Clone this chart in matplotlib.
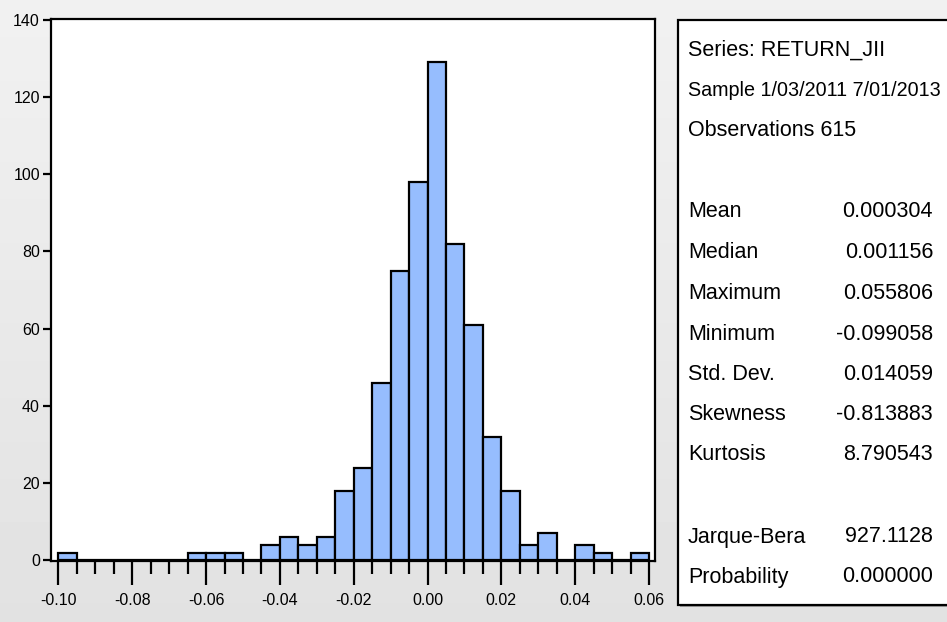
import numpy as np
import matplotlib
matplotlib.use("Agg")
import matplotlib.pyplot as plt
from matplotlib.patches import Rectangle
from matplotlib.ticker import MultipleLocator, FuncFormatter

# histogram of RETURN_JII, bins of width 0.005 starting at -0.100
bin_start = -0.100
bin_width = 0.005
counts = [2, 0, 0, 0, 0, 0, 0, 2, 2, 2, 0, 4, 6, 4, 6, 18,
          24, 46, 75, 98, 129, 82, 61, 32, 18, 4, 7, 0, 4, 2, 0, 2]

# descriptive statistics panel
header_lines = ["Series: RETURN_JII",
                "Sample 1/03/2011 7/01/2013",
                "Observations 615"]
stat_names = ["Mean", "Median", "Maximum", "Minimum", "Std. Dev.",
              "Skewness", "Kurtosis"]
stat_values = ["0.000304", "0.001156", "0.055806", "-0.099058",
               "0.014059", "-0.813883", "8.790543"]
test_names = ["Jarque-Bera", "Probability"]
test_values = ["927.1128", "0.000000"]

W, H = 947, 622
fig = plt.figure(figsize=(W / 100, H / 100), dpi=100)

# light grey window background, slightly darker toward the bottom
bg = fig.add_axes([0, 0, 1, 1], zorder=-10)
grad = np.linspace(0.945, 0.885, 100).reshape(-1, 1)
bg.imshow(grad, aspect="auto", cmap="gray", vmin=0, vmax=1,
          extent=[0, 1, 0, 1])
bg.axis("off")

tick_font = ["Liberation Sans", "DejaVu Sans"]
text_font = ["Liberation Sans", "DejaVu Sans"]

def fx(px):
    return px / W

def fy(py):
    return 1 - py / H

ax = fig.add_axes([fx(51), fy(561), fx(655) - fx(51), fy(18.5) - fy(561)])
edges = bin_start + bin_width * np.arange(len(counts) + 1)
ax.bar(edges[:-1], counts, width=bin_width, align="edge",
       color="#96bdfe", edgecolor="black", linewidth=1.6, zorder=3)

ax.set_xlim(-0.10203, 0.06163)
ax.set_ylim(-0.2, 140.3)
ax.set_facecolor("white")
for s in ax.spines.values():
    s.set_linewidth(1.6)
    s.set_color("black")

ax.xaxis.set_major_locator(MultipleLocator(0.02))
ax.xaxis.set_minor_locator(MultipleLocator(0.005))
ax.xaxis.set_major_formatter(FuncFormatter(lambda v, p: f"{round(v, 2) + 0:.2f}"))
ax.yaxis.set_major_locator(MultipleLocator(20))
ax.tick_params(axis="x", which="major", length=17, width=1.6, pad=6,
               direction="out", labelsize=11.5)
ax.tick_params(axis="x", which="minor", length=9.5, width=1.6,
               direction="out")
ax.tick_params(axis="y", which="major", length=6, width=1.6, pad=2,
               direction="out", labelsize=11.5)
for lab in ax.get_xticklabels() + ax.get_yticklabels():
    lab.set_family(tick_font)

# statistics box, running off the right edge of the window
fig.add_artist(Rectangle((fx(680), fy(607)), 0.4, fy(22) - fy(607),
                         transform=fig.transFigure, facecolor="#a0a0a0",
                         edgecolor="none", zorder=1))
fig.add_artist(Rectangle((fx(678), fy(605)), 0.4, fy(20) - fy(605),
                         transform=fig.transFigure, facecolor="white",
                         edgecolor="black", linewidth=1.6, zorder=2))

fs = 15.5
x_lab, x_val = fx(688), fx(933)
y_rows = [50, 90, 131]
header_sizes = [fs, 14.2, fs]
for txt, yy, size in zip(header_lines, y_rows, header_sizes):
    fig.text(x_lab, fy(yy), txt, ha="left", va="center", fontsize=size,
             family=text_font, zorder=5)

stat_rows = [212, 253, 294, 334, 375, 415, 455]
for name, val, yy in zip(stat_names, stat_values, stat_rows):
    fig.text(x_lab, fy(yy), name, ha="left", va="center", fontsize=fs,
             family=text_font, zorder=5)
    fig.text(x_val, fy(yy), val, ha="right", va="center", fontsize=fs,
             family=text_font, zorder=5)

test_rows = [537, 577]
for name, val, yy in zip(test_names, test_values, test_rows):
    fig.text(x_lab, fy(yy), name, ha="left", va="center", fontsize=fs,
             family=text_font, zorder=5)
    fig.text(x_val, fy(yy), val, ha="right", va="center", fontsize=fs,
             family=text_font, zorder=5)

fig.savefig("out.png", dpi=100)
